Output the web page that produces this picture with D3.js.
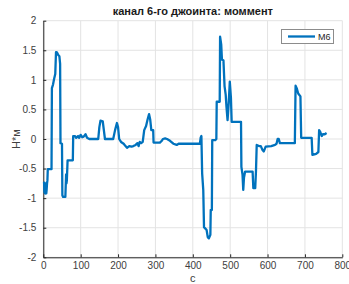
<!DOCTYPE html>
<html><head><meta charset="utf-8">
<script src="https://cdn.jsdelivr.net/npm/d3@7"></script>
<style>body{margin:0;background:#fff}svg{display:block}text{font-family:"Liberation Sans",Arial,Helvetica,sans-serif}</style>
</head><body><svg id="c" width="349" height="284"></svg>
<script>
const title = "канал 6-го джоинта: моммент";
const xLabel = "с";
const yLabel = "Н*м";
const seriesName = "M6";
const xTicks = [0,100,200,300,400,500,600,700,800];
const yTicks = [-2,-1.5,-1,-0.5,0,0.5,1,1.5,2];
const timeS = [2,3,5,6,7,8,9,10,11,12,22,23,26,29,32,34,37,40,43,45,46,50,51,53,59,61,62,63,65,79,80,85,88,93,96,100,104,108,113,117,123,147,150,153,159,162,165,187,192,197,200,203,208,215,220,224,230,236,241,247,252,255,258,262,266,270,275,279,283,286,289,294,295,312,317,320,326,331,339,348,357,362,419,421,423,425,428,430,437,440,443,447,448,451,452,460,463,464,472,473,476,478,482,485,488,490,493,496,499,502,504,529,530,533,535,537,540,560,562,567,569,571,577,582,586,590,595,610,620,624,627,630,633,673,675,678,682,688,690,718,720,730,736,738,741,745,748,753,758];
const momentNm = [-0.72,-0.9,-0.92,-0.75,-0.78,-0.92,-0.85,-0.75,-0.7,-0.51,-0.51,0.86,0.92,1.02,1.1,1.47,1.46,1.42,1.4,1.27,-0.07,-0.08,-0.95,-0.98,-0.98,-0.6,-0.75,-0.7,-0.36,-0.36,0.05,0.05,0.02,0.05,0.02,0.07,0.03,0.04,0.08,0.02,0.0,0.0,0.2,0.31,0.3,0.15,0.0,0.0,0.15,0.27,0.2,0.0,-0.05,-0.08,-0.12,-0.15,-0.12,-0.13,-0.12,-0.1,-0.07,-0.12,-0.05,-0.07,-0.05,0.15,0.22,0.33,0.42,0.33,0.15,0.15,-0.06,-0.06,-0.03,0.0,0.01,0.0,-0.03,-0.08,-0.1,-0.08,-0.08,0.02,0.05,-0.58,-0.86,-1.49,-1.54,-1.66,-1.68,-1.62,-1.2,-1.2,-0.02,-0.02,0.0,0.63,0.63,1.73,1.6,1.34,1.33,0.89,0.75,0.55,0.32,0.6,0.97,0.7,0.29,0.29,-0.47,-0.6,-0.86,-0.65,-0.55,-0.55,-0.83,-0.83,-0.55,-0.1,-0.12,-0.12,-0.18,-0.21,-0.13,-0.12,-0.1,-0.08,0.0,0.0,-0.07,-0.07,0.9,0.86,0.77,0.72,0.02,0.02,-0.27,-0.25,-0.22,0.15,0.12,0.05,0.08,0.08,0.1];

const svg = d3.select("#c");
const L = 43.3, R = 342.3, T = 20.7, B = 257.3;
const x = d3.scaleLinear().domain([0,800]).range([L,R]);
const y = d3.scaleLinear().domain([-2,2]).range([B,T]);

// grid
svg.append("g").selectAll("line").data(xTicks).join("line")
  .attr("x1",d=>x(d)).attr("x2",d=>x(d)).attr("y1",T).attr("y2",B)
  .attr("stroke","#e3e3e3").attr("stroke-width",1);
svg.append("g").selectAll("line").data(yTicks).join("line")
  .attr("x1",L).attr("x2",R).attr("y1",d=>y(d)).attr("y2",d=>y(d))
  .attr("stroke","#e3e3e3").attr("stroke-width",1);

// axes
const xa = svg.append("g").attr("transform",`translate(0,${B})`)
  .call(d3.axisBottom(x).tickValues(xTicks).tickSizeInner(-3).tickSizeOuter(0).tickPadding(5).tickFormat(d3.format("d")));
const ya = svg.append("g").attr("transform",`translate(${L},0)`)
  .call(d3.axisLeft(y).tickValues(yTicks).tickSizeInner(-3).tickSizeOuter(0).tickPadding(7).tickFormat(d=>String(d)));
[xa,ya].forEach(a=>{
  a.select(".domain").attr("stroke","#262626");
  a.selectAll(".tick line").attr("stroke","#262626");
  a.selectAll("text").attr("fill","#404040").style("font-size","10px");
});

// line
const pts = timeS.map((t,i)=>[t,momentNm[i]]);
svg.append("path").datum(pts)
  .attr("fill","none").attr("stroke","#0072BD").attr("stroke-width",2.3)
  .attr("stroke-linejoin","round")
  .attr("d",d3.line().x(d=>x(d[0])).y(d=>y(d[1])));

// title & labels
svg.append("text").attr("x",(L+R)/2).attr("y",15).attr("text-anchor","middle")
  .style("font-size","11px").style("font-weight","bold").attr("fill","#1a1a1a").text(title);
svg.append("text").attr("x",(L+R)/2).attr("y",282).attr("text-anchor","middle")
  .style("font-size","11px").attr("fill","#404040").text(xLabel);
svg.append("text").attr("transform",`translate(20,${(T+B)/2}) rotate(-90)`).attr("text-anchor","middle")
  .style("font-size","11px").attr("fill","#404040").text(yLabel);

// legend
const lg = svg.append("g");
lg.append("rect").attr("x",281.5).attr("y",29.5).attr("width",52).attr("height",14)
  .attr("fill","#fff").attr("stroke","#8c8c8c").attr("stroke-width",1);
lg.append("line").attr("x1",288).attr("x2",315).attr("y1",36.5).attr("y2",36.5)
  .attr("stroke","#0072BD").attr("stroke-width",2.3);
lg.append("text").attr("x",318).attr("y",40).style("font-size","9px").attr("fill","#262626").text(seriesName);
</script></body></html>
